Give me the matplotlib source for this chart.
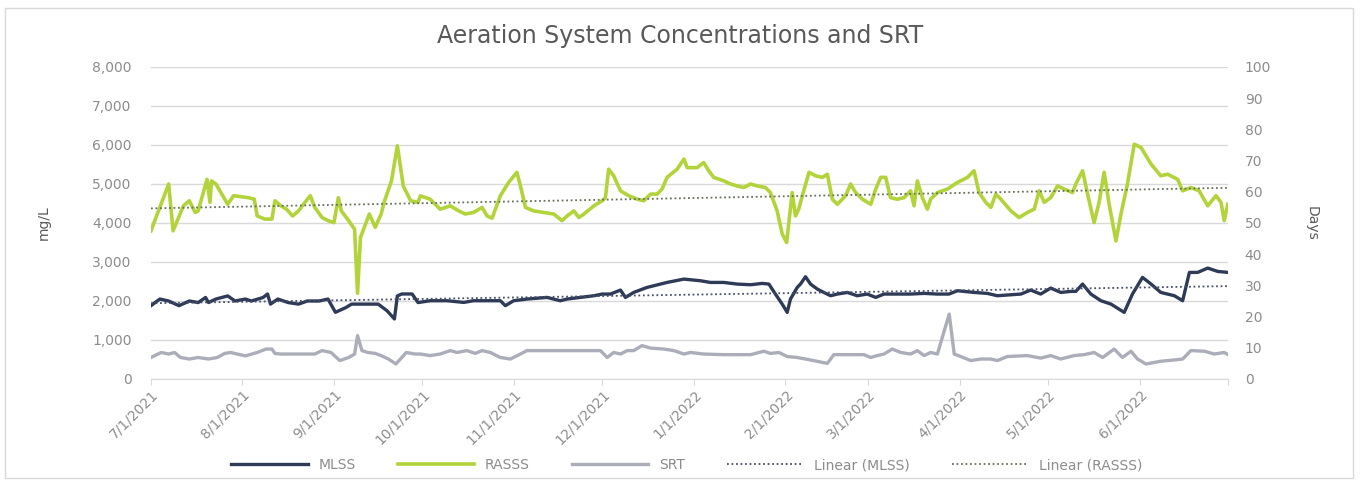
import numpy as np
import pandas as pd
import matplotlib
matplotlib.use('Agg')
import matplotlib.pyplot as plt
from matplotlib.patches import Rectangle

start = pd.Timestamp('2021-07-01')

# MLSS (mg/L), sample day offsets from 7/1/2021
mlss_days = [0, 3, 6, 9.5, 13, 16, 18.5, 19.5, 22, 26, 28.5, 32, 34, 38, 39.5, 40.5, 43, 46.5, 50, 53,
             57, 60, 62.5, 66, 68, 77, 80, 82.5, 83.5, 85, 88.5, 90.5, 94.6, 100.3, 106, 109.3, 113.9,
             118.4, 120.1, 122.9, 127.4, 134.2, 138.7, 141, 145.5, 150.1, 152.9, 155.7, 159.1, 160.8,
             163.6, 168.1, 174.9, 180.6, 186.2, 189.6, 194.1, 198.6, 203.2, 207.1, 209.4, 211.6, 213.9,
             215.6, 216.7, 219, 220.1, 221.8, 223.5, 225.8, 228, 230.3, 232.6, 236, 239.3, 242.7, 245.6,
             248.4, 252.9, 257.4, 262, 266.5, 270.4, 273.3, 278.9, 283.4, 286.8, 291.4, 294.8, 298.1,
             301.5, 304.9, 308.3, 311.7, 313.4, 315.7, 318.5, 321.9, 325.3, 329.8, 332.6, 336, 338.9,
             342.2, 346.8, 349.6, 351.9, 354.7, 358.1, 361.5, 365]
mlss = [1880, 2050, 2000, 1880, 2000, 1960, 2090, 1960, 2050, 2130, 2000, 2050, 2000, 2090, 2180, 1920,
        2050, 1960, 1920, 2000, 2000, 2050, 1710, 1830, 1920, 1920, 1750, 1540, 2130, 2180, 2180, 1960,
        2007, 2007, 1964, 2007, 2007, 2007, 1880, 2007, 2050, 2092, 2007, 2050, 2092, 2135, 2178, 2178,
        2280, 2092, 2220, 2348, 2476, 2562, 2519, 2476, 2476, 2434, 2417, 2451, 2434, 2178, 1921, 1708,
        2050, 2348, 2434, 2622, 2434, 2306, 2220, 2135, 2178, 2220, 2135, 2178, 2092, 2178, 2178, 2178,
        2195, 2178, 2178, 2263, 2220, 2195, 2135, 2160, 2178, 2280, 2178, 2331, 2220, 2246, 2246, 2434,
        2178, 2007, 1921, 1708, 2178, 2605, 2434, 2220, 2135, 2007, 2733, 2733, 2844, 2758, 2733]

# RASSS (mg/L)
rasss_days = [0, 6, 7.5, 11, 13, 15, 16, 19, 20, 20.5, 22, 26, 28, 33, 35, 36, 38.6, 41, 42, 44, 46, 48,
              50, 53, 54, 55.5, 58, 60, 62, 63.5, 64.5, 67, 69, 70, 71, 72.5, 74, 76, 78, 79, 81.5, 83.5,
              85.5, 88, 90.5, 91.3, 94.6, 98, 101.4, 104.3, 106.5, 109.3, 112.2, 113.9, 115.6, 118.4,
              121.2, 124, 125.2, 126.9, 129.7, 133.1, 136.5, 139.3, 141, 143.3, 145, 146.7, 150.1, 152.9,
              154, 155.1, 156.8, 159.1, 161.9, 164.8, 167, 169.3, 171.5, 173.2, 174.9, 178.3, 180.6,
              181.7, 185.1, 187.3, 189, 190.7, 194.1, 196.4, 198.6, 200.9, 203.2, 205.4, 208.2, 209.9,
              212.2, 213.9, 215.4, 216.5, 217.3, 218.4, 219.5, 221.2, 223, 225.2, 227.5, 229.2, 230.9,
              232.6, 235.4, 237.1, 238.8, 241.1, 243.9, 245.6, 247.3, 249, 250.6, 252.9, 255.2, 257.4,
              258.6, 259.7, 261.4, 263.1, 264.2, 266.5, 269.9, 273.3, 276.7, 278.9, 280.6, 282.9, 284.6,
              286.3, 288, 291.4, 294.2, 297, 299.3, 301, 302.7, 304.9, 307.2, 309.5, 312.3, 313.4, 315.7,
              317.4, 319.6, 321.3, 323, 324.7, 327, 328.7, 330.9, 333.2, 335.5, 338.9, 342.2, 344.5,
              347.9, 349.6, 352.4, 355.2, 358.1, 360.9, 362.6, 363.7, 364.9]
rasss = [3800, 5000, 3800, 4440, 4570, 4270, 4310, 5120, 4530, 5080, 5000, 4480, 4700, 4650, 4610, 4180,
         4100, 4100, 4570, 4440, 4350, 4180, 4310, 4610, 4700, 4400, 4140, 4060, 4010, 4650, 4310, 4060,
         3840, 2200, 3630, 3930, 4230, 3890, 4230, 4530, 5080, 5980, 4950, 4570, 4530, 4697, 4610, 4355,
         4440, 4310, 4230, 4270, 4400, 4180, 4125, 4700, 5040, 5300, 4950, 4400, 4310, 4270, 4230, 4060,
         4180, 4310, 4140, 4230, 4440, 4570, 4650, 5380, 5210, 4825, 4700, 4610, 4570, 4740, 4740, 4870,
         5170, 5380, 5640, 5420, 5420, 5550, 5340, 5170, 5080, 5000, 4950, 4910, 5000, 4950, 4910, 4780,
         4310, 3720, 3500, 4230, 4780, 4180, 4355, 4825, 5300, 5210, 5170, 5250, 4610, 4480, 4700, 5000,
         4780, 4610, 4480, 4870, 5170, 5170, 4650, 4610, 4650, 4825, 4440, 5080, 4650, 4355, 4610, 4780,
         4870, 5040, 5170, 5340, 4780, 4530, 4400, 4740, 4610, 4310, 4140, 4270, 4355, 4825, 4530, 4650,
         4950, 4870, 4780, 5000, 5340, 4740, 4010, 4530, 5300, 4480, 3540, 4230, 5000, 6020, 5935, 5510,
         5210, 5250, 5120, 4825, 4910, 4825, 4440, 4700, 4530, 4060, 4480]

# SRT (days)
srt_days = [0, 3.5, 6, 8, 10, 13, 16, 19.5, 22.5, 25, 27, 32, 36, 39, 41, 42, 44, 55.5, 58, 61, 64, 67,
            69, 70, 71.5, 73.5, 76, 78, 80.5, 83, 85, 86.5, 89.5, 91.3, 94.6, 98, 101.4, 103.7, 107.1,
            109.9, 112.2, 115, 118.4, 121.8, 125.2, 127.4, 152.3, 154.6, 156.8, 159.1, 161.4, 163.6,
            166.4, 169.3, 173.8, 177.2, 180.6, 182.8, 187.3, 194.1, 203.2, 207.7, 209.9, 212.8, 215.6,
            219, 223.5, 229.2, 231.4, 241.6, 243.9, 246.1, 248.4, 251.2, 254.1, 257.4, 259.7, 262, 264.2,
            266.5, 270.5, 272.2, 274.4, 277.8, 281.2, 284.6, 286.8, 290.2, 297, 301.5, 304.9, 308.3,
            312.8, 316.2, 319.6, 322.5, 326.4, 329.2, 332.1, 334.3, 337.2, 342.2, 346.8, 349.6, 352.4,
            357, 360.3, 363.7, 365]
srt = [6.9, 8.5, 8.0, 8.5, 6.9, 6.4, 6.9, 6.4, 6.9, 8.2, 8.5, 7.4, 8.5, 9.6, 9.6, 8.2, 8.0, 8.0, 9.1,
       8.5, 5.9, 6.9, 8.0, 13.9, 9.1, 8.5, 8.2, 7.5, 6.4, 4.8, 6.9, 8.5, 8.0, 8.0, 7.5, 8.0, 9.1, 8.5,
       9.1, 8.2, 9.1, 8.5, 6.9, 6.4, 8.0, 9.1, 9.1, 6.9, 8.5, 8.0, 9.1, 9.1, 10.7, 9.9, 9.6, 9.1, 8.0,
       8.5, 8.0, 7.8, 7.8, 8.9, 8.2, 8.5, 7.2, 6.9, 6.1, 5.0, 7.8, 7.8, 6.9, 7.5, 8.0, 9.6, 8.5, 8.0,
       9.1, 7.5, 8.5, 8.0, 20.8, 8.0, 7.2, 5.9, 6.4, 6.4, 5.9, 7.2, 7.5, 6.7, 7.5, 6.4, 7.5, 7.8, 8.5,
       6.9, 9.6, 6.9, 8.9, 6.4, 4.8, 5.7, 6.1, 6.4, 9.1, 8.9, 8.0, 8.5, 7.8]

tick_months = pd.date_range('2021-07-01', '2022-06-01', freq='MS')


def to_dates(days):
    return start + pd.to_timedelta(np.array(days), unit='D')


def trend(days, vals):
    # least-squares straight line across the whole year
    k, b = np.polyfit(days, vals, 1)
    d = np.array([0, 365])
    return to_dates(d), k * d + b


navy = '#2e3a56'
lime = '#b2d33a'
grey = '#abadb9'
txt = '#8c8c8c'

fig = plt.figure(figsize=(13.6, 4.82), dpi=100)
fig.patches.append(Rectangle((0.004, 0.008), 0.991, 0.975, transform=fig.transFigure,
                             fill=False, edgecolor='#d9d9d9', linewidth=1))
ax = fig.add_axes([0.111, 0.2137, 0.792, 0.6473])
ax2 = ax.twinx()

l1, = ax.plot(to_dates(mlss_days), mlss, color=navy, lw=2.4, label='MLSS', zorder=4)
l2, = ax.plot(to_dates(rasss_days), rasss, color=lime, lw=2.6, label='RASSS', zorder=3)
l3, = ax2.plot(to_dates(srt_days), srt, color=grey, lw=2.4, label='SRT')
td, tv = trend(mlss_days, mlss)
l4, = ax.plot(td, tv, color='#46506a', lw=1.3, ls=(0, (1, 1.5)), label='Linear (MLSS)', zorder=5)
td, tv = trend(rasss_days, rasss)
l5, = ax.plot(td, tv, color='#66725a', lw=1.3, ls=(0, (1, 1.5)), label='Linear (RASSS)', zorder=5)

ax.set_xlim(start, start + pd.Timedelta(days=365))
ax.set_ylim(0, 8000)
ax2.set_ylim(0, 100)
ax.set_yticks(range(0, 8001, 1000))
ax.set_yticklabels([f'{v:,}' for v in range(0, 8001, 1000)])
ax2.set_yticks(range(0, 101, 10))

ax.set_xticks(list(tick_months) + [start + pd.Timedelta(days=365)])
ax.set_xticklabels([f'{d.month}/1/{d.year}' for d in tick_months] + [''],
                   rotation=45, ha='right', rotation_mode='anchor')

ax.grid(axis='y', color='#d9d9d9', lw=1)
ax.set_axisbelow(True)
for a in (ax, ax2):
    for s in a.spines.values():
        s.set_visible(False)
ax.spines['bottom'].set_visible(True)
ax.spines['bottom'].set_color('#d9d9d9')
ax.tick_params(axis='y', length=0, colors=txt, labelsize=10, pad=14)
ax2.tick_params(axis='y', length=0, colors=txt, labelsize=10, pad=12)
ax.tick_params(axis='x', length=4, color='#d9d9d9', colors=txt, labelsize=10, pad=2)

ax.set_ylabel('mg/L', color='#595959', fontsize=10, labelpad=30)
ax2.set_ylabel('Days', color='#595959', fontsize=10, rotation=270, labelpad=34)

fig.text(0.5, 0.925, 'Aeration System Concentrations and SRT', ha='center', va='center',
         fontsize=17, color='#595959')

fig.legend(handles=[l1, l2, l3, l4, l5], loc='center', bbox_to_anchor=(0.505, 0.035), ncol=5,
           frameon=False, fontsize=10, handlelength=5.5, columnspacing=3.0, labelcolor=txt)

fig.savefig('out.png', dpi=100)
